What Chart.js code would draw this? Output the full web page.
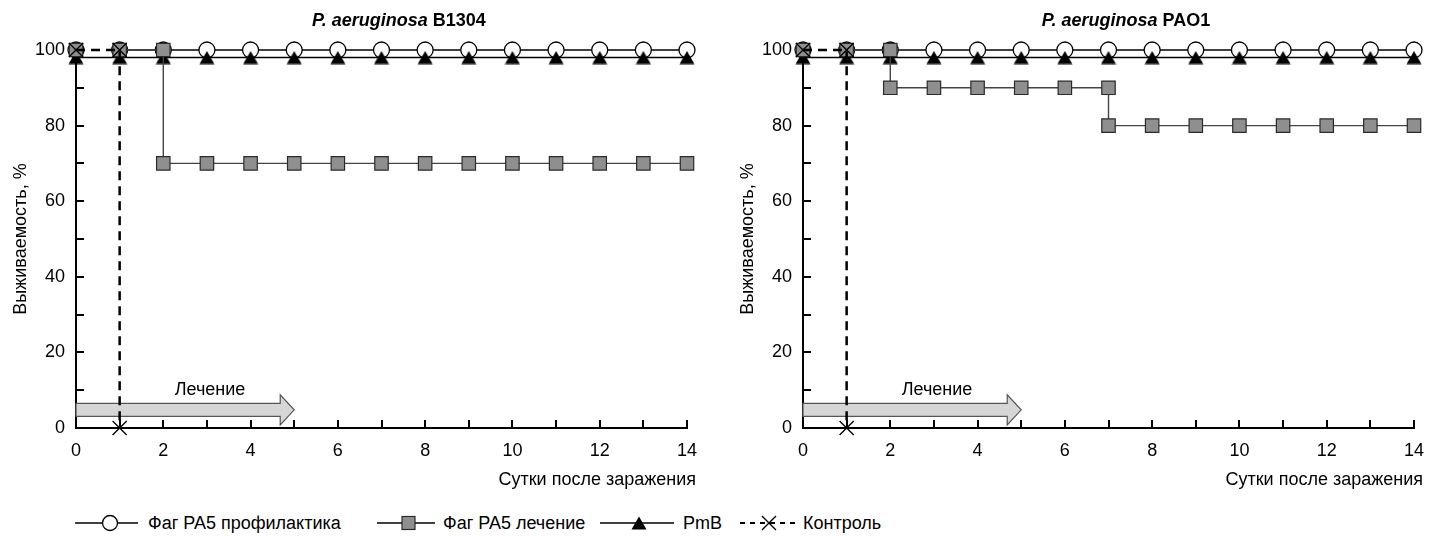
<!DOCTYPE html>
<html>
<head>
<meta charset="utf-8">
<script src="https://cdn.jsdelivr.net/npm/chart.js@4.4.1/dist/chart.umd.min.js"></script>
<style>
  body { margin: 0; background: #fff; width: 1438px; height: 536px; overflow: hidden;
         font-family: "Liberation Sans", Arial, sans-serif; position: relative; }
  canvas { position: absolute; top: 0; }
  #left { left: 0; }
  #right { left: 727px; }
  .lg { position: absolute; top: 512px; height: 22px; line-height: 22px; font-size: 18px; color: #000; white-space: nowrap; }
  .lg svg { display: block; }
</style>
</head>
<body>
<canvas id="left" width="727" height="500"></canvas>
<canvas id="right" width="711" height="500"></canvas>

<div class="lg" style="left:75px"><svg width="63" height="22"><line x1="0" y1="11" x2="63" y2="11" stroke="#000" stroke-width="1.3"/><circle cx="35" cy="11" r="7.5" fill="#fff" stroke="#000" stroke-width="1.3"/></svg></div>
<div class="lg" style="left:148px">Фаг PA5 профилактика</div>
<div class="lg" style="left:377px"><svg width="58" height="22"><line x1="0" y1="11" x2="58" y2="11" stroke="#000" stroke-width="1.3"/><rect x="25" y="4.5" width="13" height="13" fill="#8f8f8f" stroke="#2b2b2b" stroke-width="1.2"/></svg></div>
<div class="lg" style="left:443px">Фаг PA5 лечение</div>
<div class="lg" style="left:600px"><svg width="74" height="22"><line x1="0" y1="11" x2="74" y2="11" stroke="#000" stroke-width="1.3"/><polygon points="31.5,17.5 39,4.5 46.5,17.5" fill="#000"/></svg></div>
<div class="lg" style="left:683px">PmB</div>
<div class="lg" style="left:740px"><svg width="58" height="22"><line x1="0" y1="11" x2="58" y2="11" stroke="#000" stroke-width="2" stroke-dasharray="5,5"/><line x1="22" y1="4" x2="36" y2="18" stroke="#000" stroke-width="1.3"/><line x1="36" y1="4" x2="22" y2="18" stroke="#000" stroke-width="1.3"/></svg></div>
<div class="lg" style="left:803px">Контроль</div>

<script>
// days after infection
const days = [0, 1, 2, 3, 4, 5, 6, 7, 8, 9, 10, 11, 12, 13, 14];

// P. aeruginosa B1304
const prophB1304 = [100, 100, 100, 100, 100, 100, 100, 100, 100, 100, 100, 100, 100, 100, 100];
const pmbB1304 = [98, 98, 98, 98, 98, 98, 98, 98, 98, 98, 98, 98, 98, 98, 98];
const treatB1304X = [0, 1, 2, 2, 3, 4, 5, 6, 7, 8, 9, 10, 11, 12, 13, 14];
const treatB1304Y = [100, 100, 100, 70, 70, 70, 70, 70, 70, 70, 70, 70, 70, 70, 70, 70];
const controlB1304X = [0, 1, 1];
const controlB1304Y = [100, 100, 0];

// P. aeruginosa PAO1
const prophPAO1 = [100, 100, 100, 100, 100, 100, 100, 100, 100, 100, 100, 100, 100, 100, 100];
const pmbPAO1 = [98, 98, 98, 98, 98, 98, 98, 98, 98, 98, 98, 98, 98, 98, 98];
const treatPAO1X = [0, 1, 2, 2, 3, 4, 5, 6, 7, 7, 8, 9, 10, 11, 12, 13, 14];
const treatPAO1Y = [100, 100, 100, 90, 90, 90, 90, 90, 90, 80, 80, 80, 80, 80, 80, 80, 80];
const controlPAO1X = [0, 1, 1];
const controlPAO1Y = [100, 100, 0];

// treatment period arrow (days) and its level on the y axis
const treatmentPeriod = [0, 5];
const arrowLevel = 4.8;

const FONT = '"Liberation Sans", Arial, sans-serif';

function pts(xs, ys) {
  return xs.map((x, i) => ({ x, y: ys[i] }));
}

function triangleMarker() {
  const c = document.createElement('canvas');
  c.width = 16;
  c.height = 14;
  const g = c.getContext('2d');
  g.fillStyle = '#000';
  g.beginPath();
  g.moveTo(0.5, 13.5);
  g.lineTo(8, 0.5);
  g.lineTo(15.5, 13.5);
  g.closePath();
  g.fill();
  return c;
}
const tri = triangleMarker();

// no line between day 0 and day 1 for these series
const skipFirst = color => ctx => (ctx.p0DataIndex === 0 ? 'rgba(0,0,0,0)' : color);

const decor = {
  id: 'decor',
  beforeDatasetsDraw(chart) {
    const { ctx, chartArea: a, scales: { x, y } } = chart;
    ctx.save();
    // inward tick marks
    ctx.strokeStyle = '#000';
    ctx.lineWidth = 2;
    for (let v = 0; v <= 100; v += 10) {
      const py = Math.round(y.getPixelForValue(v));
      ctx.beginPath();
      ctx.moveTo(a.left, py);
      ctx.lineTo(a.left + 8, py);
      ctx.stroke();
    }
    days.forEach(d => {
      const px = Math.round(x.getPixelForValue(d));
      ctx.beginPath();
      ctx.moveTo(px, a.bottom);
      ctx.lineTo(px, a.bottom - 8);
      ctx.stroke();
    });

    // treatment arrow
    const x0 = x.getPixelForValue(treatmentPeriod[0]);
    const x1 = x.getPixelForValue(treatmentPeriod[1]);
    const yc = y.getPixelForValue(arrowLevel);
    const bh = 6.5, hh = 15, hl = 14;
    ctx.beginPath();
    ctx.moveTo(x0, yc - bh);
    ctx.lineTo(x1 - hl, yc - bh);
    ctx.lineTo(x1 - hl, yc - hh);
    ctx.lineTo(x1, yc);
    ctx.lineTo(x1 - hl, yc + hh);
    ctx.lineTo(x1 - hl, yc + bh);
    ctx.lineTo(x0, yc + bh);
    ctx.closePath();
    ctx.fillStyle = '#d6d6d6';
    ctx.fill();
    ctx.strokeStyle = '#555';
    ctx.lineWidth = 1.2;
    ctx.stroke();

    ctx.fillStyle = '#000';
    ctx.font = '18px ' + FONT;
    ctx.textAlign = 'center';
    ctx.textBaseline = 'alphabetic';
    ctx.fillText('Лечение', x.getPixelForValue(3.07), yc - 15);
    ctx.restore();
  },
  afterDraw(chart, args, opts) {
    const { ctx, chartArea: a } = chart;
    ctx.save();
    ctx.fillStyle = '#000';
    ctx.textBaseline = 'alphabetic';

    // title: italic species + bold strain
    const part1 = 'P. aeruginosa ';
    const part2 = opts.strain;
    ctx.font = 'italic bold 18px ' + FONT;
    const w1 = ctx.measureText(part1).width;
    ctx.font = 'bold 18px ' + FONT;
    const w2 = ctx.measureText(part2).width;
    const start = a.left + 323 - (w1 + w2) / 2;
    ctx.textAlign = 'left';
    ctx.font = 'italic bold 18px ' + FONT;
    ctx.fillText(part1, start, 26);
    ctx.font = 'bold 18px ' + FONT;
    ctx.fillText(part2, start + w1, 26);

    // x axis title
    ctx.font = '18px ' + FONT;
    ctx.textAlign = 'right';
    ctx.fillText('Сутки после заражения', a.right + 9, 485);

    // y axis title
    ctx.translate(26, (a.top + a.bottom) / 2);
    ctx.rotate(-Math.PI / 2);
    ctx.textAlign = 'center';
    ctx.fillText('Выживаемость, %', 0, 0);
    ctx.restore();
  }
};

function makeChart(id, strain, proph, pmb, treatX, treatY, ctrlX, ctrlY, padRight) {
  const el = document.getElementById(id);
  return new Chart(el.getContext('2d'), {
    type: 'line',
    data: {
      datasets: [
        {
          label: 'Контроль',
          data: pts(ctrlX, ctrlY),
          borderColor: '#000',
          borderWidth: 2.5,
          borderDash: [9, 6],
          pointStyle: 'crossRot',
          pointRadius: 10,
          pointBorderWidth: 1.3,
          pointBorderColor: '#000',
          pointBackgroundColor: '#000',
          order: 0
        },
        {
          label: 'Фаг PA5 лечение',
          data: pts(treatX, treatY),
          borderColor: '#444',
          borderWidth: 1.4,
          segment: { borderColor: skipFirst('#444') },
          pointStyle: 'rect',
          pointRadius: 9.5,
          pointBorderWidth: 1.2,
          pointBorderColor: '#2b2b2b',
          pointBackgroundColor: '#8f8f8f',
          order: 1
        },
        {
          label: 'PmB',
          data: pts(days, pmb),
          borderColor: '#000',
          borderWidth: 1.4,
          pointStyle: tri,
          pointRadius: 8,
          order: 2
        },
        {
          label: 'Фаг PA5 профилактика',
          data: pts(days, proph),
          borderColor: '#000',
          borderWidth: 1.4,
          segment: { borderColor: skipFirst('#000') },
          pointStyle: 'circle',
          pointRadius: 8,
          pointBorderWidth: 1.3,
          pointBorderColor: '#000',
          pointBackgroundColor: '#fff',
          order: 3
        }
      ]
    },
    options: {
      responsive: false,
      animation: false,
      events: [],
      clip: false,
      layout: { padding: { top: 50, right: padRight, left: 0, bottom: 0 } },
      datasets: { line: { clip: false, tension: 0 } },
      scales: {
        x: {
          type: 'linear',
          min: 0,
          max: 14,
          grid: { display: false, drawTicks: false },
          border: { display: true, color: '#000', width: 2 },
          ticks: { stepSize: 2, padding: 12, color: '#000', font: { size: 18, family: FONT } },
          afterFit(scale) { scale.height = 500 - 428; }
        },
        y: {
          min: 0,
          max: 100,
          grid: { display: false, drawTicks: false },
          border: { display: true, color: '#000', width: 2 },
          ticks: { stepSize: 20, padding: 11, color: '#000', font: { size: 18, family: FONT } },
          afterFit(scale) { scale.width = 76; }
        }
      },
      plugins: {
        legend: { display: false },
        tooltip: { enabled: false },
        decor: { strain }
      }
    },
    plugins: [decor]
  });
}

makeChart('left', 'B1304', prophB1304, pmbB1304, treatB1304X, treatB1304Y, controlB1304X, controlB1304Y, 40);
makeChart('right', 'PAO1', prophPAO1, pmbPAO1, treatPAO1X, treatPAO1Y, controlPAO1X, controlPAO1Y, 24);
</script>
</body>
</html>
